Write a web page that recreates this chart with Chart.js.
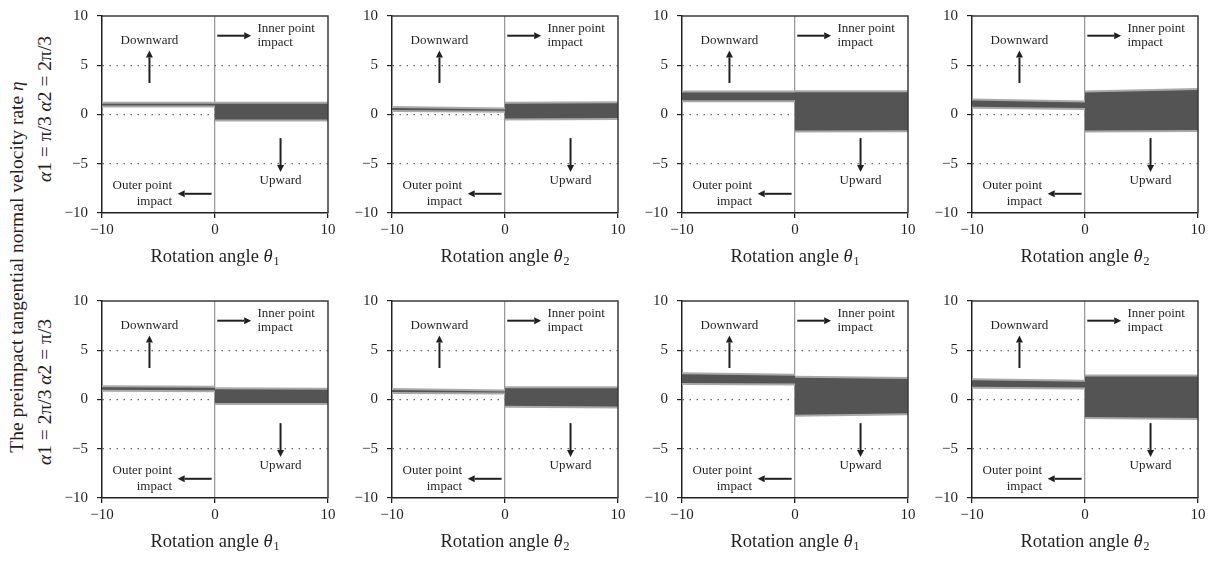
<!DOCTYPE html>
<html>
<head>
<meta charset="utf-8">
<script src="https://cdn.jsdelivr.net/npm/chart.js@4"></script>
<style>
body { margin: 0; background: #fff; width: 1218px; height: 561px; overflow: hidden; position: relative; font-family: "Liberation Serif", serif; color: #231f20; }
canvas { position: absolute; }
.vlabel { position: absolute; white-space: nowrap; font-size: 19.5px; transform: translate(-50%, -50%) rotate(-90deg); }
</style>
</head>
<body>
<div class="vlabel" style="left:17px;top:267px">The preimpact tangential normal velocity rate <i>η</i></div>
<script>
// panels run left to right, top row first
var angleIndex = ['1', '2', '1', '2', '1', '2', '1', '2'];
var rowLabels = ['α1 = π/3 α2 = 2π/3', 'α1 = 2π/3 α2 = π/3'];
var xTicks = [-10, 0, 10];
var yTicks = [-10, -5, 0, 5, 10];

var leftX = [-10, 0];
var rightX = [0, 10];
var leftUpper = [[1.2, 1.2], [0.75, 0.62], [2.33, 2.33], [1.52, 1.32], [1.35, 1.3], [1.06, 0.92], [2.67, 2.51], [2.05, 1.91]];
var leftLower = [[0.8, 0.8], [0.35, 0.27], [1.35, 1.35], [0.69, 0.56], [0.88, 0.85], [0.66, 0.6], [1.58, 1.52], [1.19, 1.12]];
var rightUpper = [[1.2, 1.2], [1.2, 1.25], [2.35, 2.35], [2.34, 2.6], [1.15, 1.1], [1.25, 1.25], [2.31, 2.18], [2.44, 2.44]];
var rightLower = [[-0.62, -0.62], [-0.5, -0.45], [-1.72, -1.7], [-1.72, -1.68], [-0.46, -0.46], [-0.73, -0.8], [-1.65, -1.49], [-1.88, -1.98]];

var noteTexts = [
    { text: 'Downward', x: -5.8, y: 7.5, align: 'center' },
    { text: 'Inner point', x: 3.76, y: 8.7, align: 'left' },
    { text: 'impact', x: 3.76, y: 7.3, align: 'left' },
    { text: 'Upward', x: 5.8, y: -6.7, align: 'center' },
    { text: 'Outer point', x: -3.8, y: -7.26, align: 'right' },
    { text: 'impact', x: -3.8, y: -8.8, align: 'right' }
];
var noteArrows = [
    [-5.8, 3.2, -5.8, 6.5],
    [0.2, 8.0, 3.2, 8.0],
    [5.8, -2.4, 5.8, -5.85],
    [-0.3, -8.05, -3.3, -8.05]
];

var colLeft = [42, 332, 622, 912];
var rowTop = [-2, 283];
var ink = '#231f20';
var serif = '"Liberation Serif", serif';

Chart.defaults.font.family = serif;
Chart.defaults.color = ink;

rowLabels.forEach(function (txt, r) {
    var d = document.createElement('div');
    d.className = 'vlabel';
    d.style.left = '45px';
    d.style.top = (r === 0 ? 109 : 392) + 'px';
    d.innerHTML = txt.replace(/α/g, '<i>α</i>');
    document.body.appendChild(d);
});

function pts(xs, ys) {
    return xs.map(function (x, i) { return { x: x, y: ys[i] }; });
}

function minus(v) {
    return String(v).replace('-', '\u2212');
}

var framePlugin = {
    id: 'frame',
    afterDraw: function (chart) {
        var c = chart.ctx, a = chart.chartArea;
        var xs = chart.scales.x, ys = chart.scales.y;
        c.save();
        // top and right edges of the box
        c.strokeStyle = '#3a3a3a';
        c.lineWidth = 1.5;
        c.beginPath();
        c.moveTo(a.left, a.top);
        c.lineTo(a.right, a.top);
        c.lineTo(a.right, a.bottom);
        c.stroke();

        // notes and arrows
        c.fillStyle = ink;
        c.font = '13px ' + serif;
        c.textBaseline = 'middle';
        noteTexts.forEach(function (n) {
            c.textAlign = n.align;
            c.fillText(n.text, xs.getPixelForValue(n.x), ys.getPixelForValue(n.y));
        });
        c.strokeStyle = ink;
        c.lineWidth = 2;
        noteArrows.forEach(function (ar) {
            var x1 = xs.getPixelForValue(ar[0]), y1 = ys.getPixelForValue(ar[1]);
            var x2 = xs.getPixelForValue(ar[2]), y2 = ys.getPixelForValue(ar[3]);
            var ang = Math.atan2(y2 - y1, x2 - x1);
            var hl = 7, hw = 3.5;
            var bx = x2 - hl * Math.cos(ang), by = y2 - hl * Math.sin(ang);
            c.beginPath();
            c.moveTo(x1, y1);
            c.lineTo(bx, by);
            c.stroke();
            c.beginPath();
            c.moveTo(x2, y2);
            c.lineTo(bx + hw * Math.sin(ang), by - hw * Math.cos(ang));
            c.lineTo(bx - hw * Math.sin(ang), by + hw * Math.cos(ang));
            c.closePath();
            c.fill();
        });

        // axis title with italic theta and subscript
        var idx = chart.options.plugins.frame.sub;
        var t1 = 'Rotation angle ';
        c.font = '18.5px ' + serif;
        var w1 = c.measureText(t1).width;
        c.font = 'italic 18.5px ' + serif;
        var w2 = c.measureText('θ').width;
        c.font = '12px ' + serif;
        var w3 = c.measureText(idx).width;
        var x0 = (a.left + a.right) / 2 - (w1 + w2 + w3 + 1) / 2;
        var ty = a.bottom + 44;
        c.textAlign = 'left';
        c.textBaseline = 'middle';
        c.font = '18.5px ' + serif;
        c.fillText(t1, x0, ty);
        c.font = 'italic 18.5px ' + serif;
        c.fillText('θ', x0 + w1, ty);
        c.font = '12px ' + serif;
        c.fillText(idx, x0 + w1 + w2 + 1, ty + 5);
        c.restore();
    }
};

for (var p = 0; p < 8; p++) {
    var cv = document.createElement('canvas');
    cv.width = 306;
    cv.height = 272;
    cv.style.left = colLeft[p % 4] + 'px';
    cv.style.top = rowTop[Math.floor(p / 4)] + 'px';
    document.body.appendChild(cv);

    var band = { pointRadius: 0, borderColor: '#a9a9a9', borderWidth: 2, backgroundColor: '#545454' };
    new Chart(cv, {
        type: 'line',
        data: {
            datasets: [
                Object.assign({ data: pts(leftX, leftUpper[p]), fill: false }, band),
                Object.assign({ data: pts(leftX, leftLower[p]), fill: '-1' }, band),
                Object.assign({ data: pts(rightX, rightUpper[p]), fill: false }, band),
                Object.assign({ data: pts(rightX, rightLower[p]), fill: '-1' }, band)
            ]
        },
        options: {
            responsive: false,
            animation: false,
            layout: { padding: { left: 0, right: 20, top: 12, bottom: 0 } },
            plugins: { legend: { display: false }, tooltip: { enabled: false }, frame: { sub: angleIndex[p] } },
            scales: {
                x: {
                    type: 'linear', min: -10, max: 10,
                    afterBuildTicks: function (s) { s.ticks = xTicks.map(function (v) { return { value: v }; }); },
                    afterFit: function (s) { s.height = 57; },
                    ticks: { font: { size: 15 }, color: ink, padding: 3, maxRotation: 0, callback: minus },
                    grid: {
                        color: function (ctx) { return ctx.tick && ctx.tick.value === 0 ? '#9a9a9a' : 'rgba(0,0,0,0)'; },
                        lineWidth: 1.3, tickColor: ink, tickLength: 5
                    },
                    border: { display: true, color: ink, width: 1.5 }
                },
                y: {
                    min: -10, max: 10,
                    afterBuildTicks: function (s) { s.ticks = yTicks.map(function (v) { return { value: v }; }); },
                    afterFit: function (s) { s.width = 60; },
                    ticks: { font: { size: 15 }, color: ink, padding: 9, callback: minus },
                    grid: {
                        color: function (ctx) { return ctx.tick && Math.abs(ctx.tick.value) === 10 ? 'rgba(0,0,0,0)' : '#6a6a6a'; },
                        lineWidth: 1.2, tickColor: ink, tickLength: 5
                    },
                    border: { display: true, color: ink, width: 1.5, dash: [1.5, 5.5] }
                }
            }
        },
        plugins: [framePlugin]
    });
}
</script>
</body>
</html>
